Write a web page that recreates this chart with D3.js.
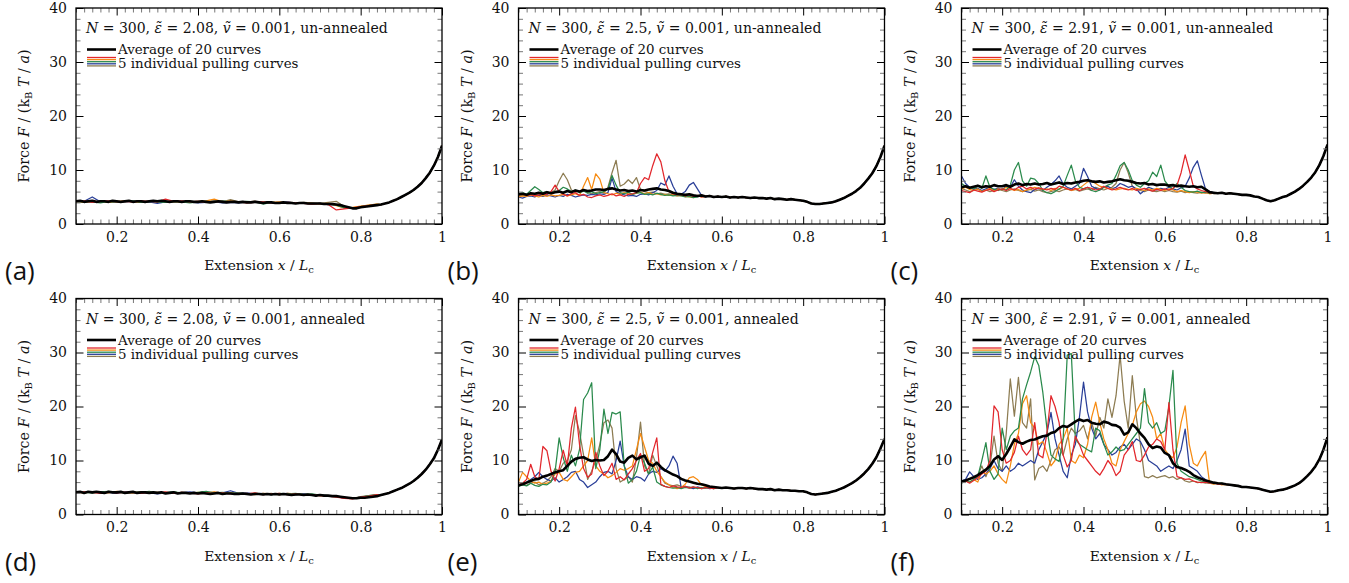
<!DOCTYPE html>
<html><head><meta charset="utf-8">
<script src="https://cdn.jsdelivr.net/npm/d3@7"></script>
<style>body{margin:0;background:#fff}svg{display:block}</style>
</head><body><svg id="c" width="1349" height="583"></svg>
<script>
// ---- tick labels / categories ----
const xTicks = [0.2, 0.4, 0.6, 0.8, 1];
const xTickLabels = ["0.2", "0.4", "0.6", "0.8", "1"];
const yTicks = [0, 10, 20, 30, 40];
const yTickLabels = ["0", "10", "20", "30", "40"];
const panelLabels = ["(a)", "(b)", "(c)", "(d)", "(e)", "(f)"];
const epsValues = ["2.08", "2.5", "2.91", "2.08", "2.5", "2.91"];
const states = ["un-annealed", "un-annealed", "un-annealed", "annealed", "annealed", "annealed"];
const seriesNames = ["red", "orange", "green", "blue", "olive"];
const xStart = 0.10, avgStep = 0.01;

// ---- average curves (x = 0.10 ... 1.00, step 0.01) ----
const avgA = [4.2,4.3,4.1,4.2,4.3,4.1,4.2,4.2,4.1,4.3, 4.2,4.1,4.2,4.3,4.1,4.2,4.2,4.1,4.2,4.3, 4.2,4.3,4.2,4.1,4.2,4.2,4.1,4.2,4.2,4.1, 4.1,4.2,4.1,4.0,4.1,4.2,4.1,4.0,4.1,4.1, 4.0,4.1,4.0,4.0,4.1,4.0,3.9,4.0,4.0,3.9, 3.9,4.0,3.9,3.9,3.8,3.9,3.9,3.8,3.8,3.8, 3.8,3.7,3.7,3.7,3.6,3.5,3.3,3.1,2.9,2.9, 3.1,3.2,3.3,3.4,3.5,3.6,3.8,4.0,4.3,4.6, 5.0,5.4,5.8,6.3,6.9,7.6,8.5,9.5,10.8,12.4,14.5];
const avgB = [5.5,5.6,5.4,5.7,5.6,5.8,5.6,5.9,5.7,5.9, 6.0,5.8,6.1,5.9,6.2,6.0,6.3,6.1,6.2,6.4, 6.4,6.3,6.5,6.6,6.4,6.2,6.3,6.1,6.2,6.0, 6.3,6.2,6.4,6.5,6.6,6.4,6.3,6.1,5.8,5.6, 5.5,5.4,5.5,5.3,5.2,5.3,5.1,5.2,5.0,5.1, 5.0,5.1,4.9,5.0,4.9,5.0,4.9,4.8,4.9,4.8, 4.8,4.7,4.8,4.6,4.7,4.6,4.5,4.6,4.5,4.4, 4.3,4.1,3.8,3.7,3.7,3.8,3.9,4.0,4.2,4.5, 4.8,5.2,5.6,6.1,6.7,7.5,8.4,9.4,10.7,12.4,14.5];
const avgC = [6.8,7.0,6.7,6.9,7.1,6.8,7.0,6.9,7.2,7.0, 7.0,7.2,6.9,7.3,7.5,7.2,7.4,7.3,7.5,7.3, 7.4,7.6,7.3,7.5,7.7,7.4,7.6,7.5,7.7,7.8, 8.0,8.1,7.9,7.8,7.9,7.7,7.8,7.9,8.1,8.3, 8.1,8.0,7.8,7.6,7.5,7.6,7.3,7.4,7.2,7.3, 7.3,7.1,7.2,7.0,7.1,7.0,6.9,7.0,6.8,6.9, 6.4,5.9,5.8,5.7,5.8,5.6,5.7,5.6,5.5,5.4, 5.4,5.3,5.1,5.0,4.7,4.4,4.2,4.4,4.7,5.0, 5.2,5.6,6.0,6.5,7.1,7.8,8.6,9.6,10.9,12.6,14.7];
const avgD = [4.1,4.2,4.0,4.2,4.1,4.2,4.1,4.0,4.2,4.1, 4.1,4.2,4.0,4.1,4.2,4.0,4.1,4.1,4.0,4.1, 4.0,4.1,3.9,4.0,4.1,3.9,4.0,4.0,3.9,4.0, 3.9,4.0,3.9,3.8,3.9,4.0,3.8,3.9,3.9,3.8, 3.8,3.9,3.8,3.7,3.8,3.8,3.7,3.8,3.7,3.8, 3.7,3.8,3.7,3.6,3.7,3.7,3.6,3.7,3.6,3.5, 3.6,3.5,3.5,3.4,3.4,3.3,3.2,3.1,3.0,3.0, 3.1,3.1,3.2,3.3,3.4,3.6,3.8,4.0,4.3,4.6, 4.9,5.3,5.7,6.2,6.8,7.5,8.3,9.3,10.4,12.0,13.9];
const avgE = [5.4,5.6,5.9,6.2,6.5,6.6,7.0,7.2,7.5,7.8, 8.0,8.2,9.0,9.8,10.3,10.5,10.6,10.2,9.9,10.1, 10.0,10.1,10.8,12.0,11.2,9.8,9.6,10.5,10.9,10.2, 10.6,10.9,9.4,9.0,9.6,8.8,8.2,7.8,7.4,7.1, 6.6,6.3,6.1,5.9,5.7,5.6,5.4,5.2,5.1,5.0, 4.9,5.0,4.9,4.8,4.9,4.9,4.8,4.9,4.8,4.7, 4.7,4.6,4.7,4.5,4.6,4.5,4.5,4.4,4.4,4.3, 4.3,4.1,3.8,3.7,3.8,3.9,4.0,4.2,4.4,4.7, 5.0,5.4,5.8,6.3,6.9,7.6,8.4,9.4,10.6,12.2,14.0];
const avgF = [6.1,6.3,6.6,6.9,7.3,7.8,8.3,9.0,10.2,10.8, 10.1,11.2,12.5,13.9,13.4,13.1,13.5,13.8,13.9,14.2, 14.5,14.6,15.1,15.3,16.0,16.4,16.2,16.7,17.2,17.6, 17.3,17.5,17.0,16.8,16.7,17.2,17.0,16.6,16.5,16.1, 14.8,15.2,16.7,16.0,15.0,14.2,13.0,12.3,12.6,12.4, 11.4,11.0,9.5,8.8,8.6,8.3,7.9,7.3,6.9,6.6, 6.3,6.1,5.9,5.8,5.75,5.6,5.5,5.4,5.3,5.1, 5.1,5.0,4.9,4.8,4.6,4.4,4.2,4.3,4.5,4.6, 4.8,5.1,5.4,5.8,6.4,7.1,7.9,8.9,10.2,12.0,14.3];

// ---- individual pulling curves (start at x = 0.10; continue on the average afterwards) ----
// panel (a), step 0.02
const redA = [4.1,4.3,4.0,4.2,4.3,4.1,4.2,4.1,4.3,4.2,4.1,4.6,4.2,4.3,4.1,4.2,4.0,4.1,4.2,4.0,4.1,3.9,4.0,4.1,3.9,3.8,4.0,3.9,3.8,3.7,3.8,3.6,2.6,2.8,3.0,3.2,3.4,3.6];
const orangeA = [4.2,4.0,4.3,4.1,4.0,4.2,4.3,4.1,4.0,4.2,4.3,4.1,4.2,4.0,4.1,4.2,4.3,4.6,4.1,4.3,4.0,4.1,4.2,3.9,4.0,4.1,3.9,3.8,3.9,3.8,3.7,3.8,3.4,3.0,3.1,3.3,3.5,3.7];
const greenA = [4.0,4.2,4.1,3.9,4.2,4.0,4.1,4.3,4.0,4.2,4.1,4.0,4.2,4.1,3.9,4.1,4.2,4.0,4.3,4.1,4.0,4.2,4.1,3.7,4.0,3.9,4.0,3.8,3.9,3.7,3.8,3.7,3.5,3.0,2.9,3.2,3.4,3.6];
const blueA = [4.1,4.2,5.0,4.1,4.2,4.0,4.1,4.2,4.0,4.1,3.8,4.1,4.2,4.0,4.1,3.9,4.0,4.1,3.9,4.0,3.9,4.1,4.2,4.0,3.9,4.0,4.1,3.8,3.9,3.7,3.8,3.6,3.5,3.1,2.9,3.2,3.3,3.6];
const oliveA = [4.2,4.0,4.1,4.2,4.0,4.1,4.2,4.3,4.1,4.0,4.2,4.1,4.0,4.2,4.1,4.0,4.2,4.3,4.1,4.5,4.1,4.0,4.2,4.1,4.0,3.9,4.1,3.9,4.0,3.9,3.8,4.0,4.2,3.2,3.0,3.2,3.5,3.7];
// panel (b), step 0.01
const redB = [5.4,5.6,5.3,5.5,5.2,5.4,5.6,5.5,6.0,7.2, 6.0,5.5,5.2,5.6,5.8,5.3,5.5,5.0,4.9,5.2, 5.4,5.1,5.3,5.6,5.2,5.4,5.1,5.5,5.6,5.8, 7.5,8.6,8.2,10.8,13.0,11.5,8.0,6.0,5.6,5.4, 5.5,5.2,5.4,5.1,5.3,5.0];
const orangeB = [5.0,5.2,5.1,5.4,5.2,5.0,5.3,5.1,5.4,5.2, 5.3,5.5,5.2,5.4,5.6,5.3,7.0,8.6,6.4,9.3, 8.3,5.8,5.6,5.4,5.7,5.5,5.8,5.6,5.5,5.7, 5.9,5.6,5.8,5.5,5.6,5.4,5.5,5.3,5.4,5.2, 5.3,5.1,5.0,4.9,5.2,5.0];
const greenB = [5.6,5.8,5.5,6.2,6.9,6.4,5.8,6.0,5.7,5.9, 6.2,6.8,6.5,6.0,6.3,5.8,6.1,5.7,6.0,5.6, 5.8,6.0,6.5,9.0,7.2,5.8,5.6,5.9,5.5,5.7, 5.8,5.5,5.6,5.4,5.7,5.5,5.3,5.4,5.2,5.3, 5.2,5.0,5.1,4.9,5.0];
const blueB = [5.0,4.8,5.1,5.2,5.0,5.3,5.1,5.4,5.2,5.0, 5.3,5.1,5.5,5.3,5.0,5.2,5.4,5.3,5.5,5.4, 5.6,5.5,5.8,8.5,6.0,5.6,5.4,5.2,5.3,5.1, 5.5,5.6,5.4,5.8,6.2,7.6,7.2,8.9,7.0,5.6, 5.5,6.0,7.2,7.7,6.5,5.3,5.0];
const oliveB = [5.3,5.2,5.5,5.4,5.6,5.3,5.5,5.6,5.8,6.3, 8.0,9.4,8.2,6.3,5.9,6.1,6.4,5.8,5.6,5.8, 6.0,5.7,6.8,9.5,11.8,7.0,7.4,8.2,7.5,8.6, 6.4,6.0,5.8,5.9,5.6,5.7,5.5,5.6,5.4,5.5, 5.3];
// panel (c), step 0.01
const redC = [6.2,6.0,5.8,6.3,6.1,5.9,6.2,6.4,6.0,6.3, 6.5,6.2,6.6,6.3,6.8,7.0,6.5,6.8,6.4,6.7, 6.5,6.3,6.6,6.4,7.0,6.8,6.5,6.3,6.6,6.2, 6.5,6.8,6.6,6.3,6.5,7.0,6.6,6.3,6.5,6.8, 6.5,6.3,6.6,6.2,6.4,6.6,6.3,6.1,6.4,6.2, 6.5,6.3,6.6,7.2,9.5,12.8,10.0,7.0,6.5,6.2, 6.0,5.8,5.7];
const orangeC = [6.5,6.8,6.4,6.2,6.5,6.0,6.3,6.6,6.2,6.5, 6.3,6.8,6.5,6.2,6.4,6.0,6.3,6.5,6.8,6.6, 6.3,6.5,6.2,6.6,6.4,6.8,6.5,6.2,6.4,6.6, 7.2,7.8,8.0,7.5,7.0,6.8,6.6,6.5,6.3,6.5, 6.6,6.4,6.3,6.6,6.4,6.2,6.5,6.3,6.6,6.4, 6.2,6.5,6.3,6.0,6.2,6.0,5.8,6.0,5.9,5.7, 5.8,5.6,5.7];
const greenC = [7.5,7.0,6.8,6.5,7.0,6.6,8.9,6.8,6.4,6.2, 6.5,6.3,7.2,10.0,11.4,8.0,7.0,8.5,8.3,7.5, 6.2,5.8,5.6,6.0,6.5,7.0,9.0,10.9,8.0,6.8, 6.5,6.8,6.2,6.0,6.3,6.8,7.2,7.5,9.0,10.8, 11.4,10.0,8.0,7.2,6.8,7.5,8.0,9.6,8.8,10.9, 8.0,7.0,6.5,7.5,6.8,6.2,6.0,5.9,6.1,5.8, 5.9,5.7,5.8];
const blueC = [8.9,7.5,6.8,6.4,6.6,6.2,6.5,6.8,6.4,6.6, 6.3,7.0,6.8,8.2,7.0,6.3,6.0,5.8,6.4,6.6, 6.2,6.8,7.3,8.0,8.9,7.4,6.8,6.5,7.0,7.5, 10.3,8.8,7.0,6.6,6.3,6.8,7.0,6.5,6.8,7.5, 7.2,6.8,7.0,6.5,5.6,6.2,6.8,6.5,6.3,6.6, 6.4,6.8,6.5,6.3,6.7,7.0,8.5,10.5,11.7,9.0, 6.5,6.0,5.8];
const oliveC = [6.6,6.3,6.0,6.2,6.4,6.1,6.3,6.0,6.2,6.5, 6.2,6.0,6.3,6.5,6.2,6.0,6.2,6.4,6.1,6.3, 6.0,5.8,6.0,6.2,6.0,6.3,6.5,6.2,6.4,6.1, 6.3,6.5,6.2,6.8,6.5,6.3,6.6,6.8,7.5,10.0, 11.4,9.5,7.0,6.5,6.2,6.0,6.3,6.1,6.0,6.2, 6.0,6.2,6.0,5.9,6.1,5.8,6.0,5.8,5.7,5.9, 5.7,5.8,5.6];
// panel (d), step 0.02
const redD = [4.0,4.2,4.1,3.9,4.2,4.0,4.1,4.2,3.9,4.1,4.0,4.2,3.9,4.1,4.0,3.8,4.0,3.9,4.0,3.8,3.9,3.8,4.0,3.7,3.8,3.9,3.7,3.8,3.6,3.7,3.5,3.4,3.2,3.0,2.9,3.2,3.4,3.7];
const orangeD = [4.1,4.0,4.2,4.1,4.0,4.3,4.1,4.0,4.2,4.0,4.1,3.9,4.1,4.0,3.9,4.1,4.0,4.2,3.9,4.0,3.8,3.9,3.7,3.9,3.8,3.7,3.9,3.8,3.7,3.6,3.5,3.4,3.3,3.1,3.0,3.1,3.4,3.6];
const greenD = [4.2,4.1,4.0,4.2,4.3,4.1,4.0,4.2,4.1,4.3,4.0,4.1,4.2,4.0,3.9,4.1,4.3,4.0,4.1,3.9,4.0,3.8,3.9,3.8,3.7,3.9,3.8,3.9,3.7,3.8,3.6,3.5,3.4,3.1,3.0,3.2,3.5,3.7];
const blueD = [4.0,4.1,4.2,4.0,4.1,3.9,4.2,4.0,4.1,4.0,3.8,4.0,4.1,4.0,4.2,4.0,3.9,4.1,4.0,4.4,3.9,4.0,3.8,3.9,3.7,3.8,3.9,3.7,3.8,3.6,3.6,3.5,3.3,3.0,3.0,3.2,3.4,3.6];
const oliveD = [4.1,4.2,4.0,4.1,4.2,4.0,4.1,3.9,4.1,4.0,4.1,4.0,3.9,4.1,4.0,3.9,4.1,4.0,3.8,4.0,3.9,3.8,3.9,3.8,3.9,3.7,3.8,3.7,3.8,3.7,3.6,3.5,3.3,3.1,3.0,3.3,3.5,3.7];
// panel (e), step 0.01
const redE = [5.5,5.8,6.5,9.3,7.0,6.5,12.6,11.8,8.0,6.2, 8.5,11.9,9.0,16.0,19.9,13.0,8.5,6.9,7.5,11.5, 9.0,7.2,8.0,9.5,6.5,7.0,6.4,7.5,8.5,10.0, 11.3,8.0,8.5,11.5,14.2,5.6,5.2,5.0,5.3,5.1, 5.0,5.2,4.9,5.1,5.0,4.8,5.0,4.9,4.8];
const orangeE = [6.0,7.8,7.0,6.2,5.8,6.0,5.6,5.8,6.2,7.5, 7.8,6.5,6.2,7.0,7.8,8.0,9.0,10.0,14.2,9.0, 8.0,7.5,6.8,7.2,7.8,8.5,8.2,8.5,9.0,12.0, 15.0,12.5,10.0,9.5,8.0,7.0,6.0,5.5,5.0,4.8, 5.0,5.6,6.8,7.0,6.5,5.5,5.2,5.0,4.9];
const greenE = [5.2,5.5,5.3,5.8,5.4,5.2,5.6,5.5,6.0,8.0, 14.2,10.5,8.0,11.0,9.0,12.0,21.3,22.5,24.4,8.5, 12.0,19.5,15.0,18.9,18.6,19.0,9.0,5.8,6.5,8.0, 11.0,9.5,7.5,8.8,6.0,5.5,5.2,5.0,4.9,5.0, 4.8,5.0,4.9,5.1,4.8,5.0,4.9,5.0,4.8];
const blueE = [5.3,5.6,6.0,6.5,7.0,7.8,7.0,6.5,6.2,6.8, 6.0,6.5,7.0,7.8,8.0,6.5,6.0,5.0,5.5,6.0, 7.0,7.8,8.0,7.5,10.0,13.6,9.0,7.0,6.5,7.0, 6.8,6.2,7.5,8.0,7.8,8.5,8.0,9.0,10.8,9.5, 5.0,5.2,5.0,4.8,5.1,4.9,5.0,4.8,4.9];
const oliveE = [5.3,5.6,5.4,5.8,6.0,5.5,5.8,6.2,7.0,8.5, 8.0,9.5,10.0,12.0,18.3,15.3,11.0,6.5,8.0,10.0, 13.0,17.0,17.5,16.0,8.5,6.0,6.5,7.0,6.0,10.5, 17.1,9.0,7.5,11.0,9.0,7.0,5.8,5.5,5.3,5.5, 5.2,5.0,5.1,4.9,5.0,4.8,4.9,5.0,4.8];
// panel (f), step 0.01
const redF = [6.0,6.2,5.8,6.3,6.8,7.5,8.0,10.0,20.1,19.0, 12.0,9.5,10.0,11.5,14.5,12.0,11.0,12.0,17.0,11.0, 10.5,15.0,22.0,20.0,17.0,11.0,8.8,10.0,14.5,13.0, 11.0,10.0,9.0,8.0,7.3,8.5,10.0,9.0,7.2,8.0, 11.0,12.0,13.5,10.0,9.8,11.0,12.5,13.0,14.0,13.5, 12.0,20.7,12.0,7.0,6.8,6.5,6.6,6.2,6.0,5.9, 6.0,5.8,5.9,5.6,5.7];
const orangeF = [5.9,6.2,6.0,6.5,6.0,8.0,7.5,8.0,9.0,7.5, 6.5,5.8,9.0,13.0,15.0,20.5,22.0,17.0,16.0,13.0, 13.5,11.5,9.0,10.0,13.0,14.0,16.0,10.0,9.5,11.0, 10.5,13.0,18.0,20.8,17.0,14.0,12.0,9.5,9.0,12.0, 13.5,15.0,16.5,19.0,20.5,21.0,20.0,18.0,14.0,15.0, 12.0,11.0,10.5,12.5,17.0,20.1,13.0,9.5,9.0,10.5, 11.7,5.8,5.6,5.8,5.5];
const greenF = [5.8,6.2,6.0,6.5,7.0,10.0,13.3,8.0,6.5,7.5, 16.0,12.0,14.5,15.5,16.0,21.4,24.0,26.4,29.2,27.6, 22.6,16.0,11.0,10.3,9.8,14.0,29.5,29.8,14.0,13.0, 12.5,12.0,11.6,16.0,15.5,13.0,11.0,11.6,12.5,11.8, 12.0,13.0,14.0,15.0,16.0,23.3,17.0,16.0,17.0,15.0, 15.5,20.0,26.7,9.5,8.0,7.5,7.0,6.8,6.5,6.2, 6.0,5.8,5.9,5.7,5.8];
const blueF = [6.2,6.5,7.9,7.0,6.5,6.8,7.5,8.5,10.0,8.5, 8.0,9.0,8.0,8.5,9.5,9.0,9.5,10.0,9.5,12.0, 13.5,15.0,18.9,14.0,11.0,8.0,6.8,11.0,13.0,18.0, 24.5,19.0,16.0,14.0,15.0,13.0,12.0,11.0,11.5,12.5, 13.0,12.0,13.0,14.0,13.5,12.0,10.0,9.5,9.0,8.0, 8.5,9.0,8.5,10.0,12.0,15.8,9.0,8.5,8.0,7.0, 6.5,6.0,5.8,5.7,5.6];
const oliveF = [6.0,6.3,6.5,6.8,7.2,9.0,7.0,9.0,14.5,9.5, 8.0,15.0,25.1,18.2,25.4,17.0,16.0,21.4,6.4,8.5, 9.0,8.0,10.0,12.0,12.5,11.0,14.0,16.0,15.0,15.5, 16.5,14.0,17.0,14.5,18.0,16.0,21.4,18.0,22.0,29.5, 21.0,16.0,25.7,18.0,13.0,7.0,6.8,7.2,6.8,7.0, 7.2,6.8,7.0,6.5,6.8,6.2,6.0,6.2,5.9,6.0, 5.8,5.9,5.7,5.8,5.6];

// ---- styling ----
const colors = {red:"#e2272c", orange:"#f68b12", green:"#2a8a4c", blue:"#2a3f98", olive:"#8d7c52"};
const drawOrder = ["olive", "blue", "orange", "green", "red"];
const serif = "'DejaVu Serif', serif";

const panels = [
  {avg: avgA, heads: {red: redA, orange: orangeA, green: greenA, blue: blueA, olive: oliveA}, step: 0.02},
  {avg: avgB, heads: {red: redB, orange: orangeB, green: greenB, blue: blueB, olive: oliveB}, step: 0.01},
  {avg: avgC, heads: {red: redC, orange: orangeC, green: greenC, blue: blueC, olive: oliveC}, step: 0.01},
  {avg: avgD, heads: {red: redD, orange: orangeD, green: greenD, blue: blueD, olive: oliveD}, step: 0.02},
  {avg: avgE, heads: {red: redE, orange: orangeE, green: greenE, blue: blueE, olive: oliveE}, step: 0.01},
  {avg: avgF, heads: {red: redF, orange: orangeF, green: greenF, blue: blueF, olive: oliveF}, step: 0.01}
];

const svg = d3.select("#c");
const W = 366, H = 216;
const lefts = [76, 518.5, 961.5], tops = [8, 298.5];

panels.forEach((p, idx) => {
  const col = idx % 3, row = Math.floor(idx / 3);
  const L = lefts[col], T = tops[row];
  const g = svg.append("g").attr("transform", `translate(${L},${T})`);
  const x = d3.scaleLinear().domain([0.1, 1]).range([0, W]);
  const y = d3.scaleLinear().domain([0, 40]).range([H, 0]);

  const cid = "clip" + idx;
  g.append("clipPath").attr("id", cid).append("rect").attr("width", W).attr("height", H);

  const line = d3.line().x(d => x(d[0])).y(d => y(d[1]));
  const avgPts = p.avg.map((v, i) => [xStart + i * avgStep, v]);
  const plot = g.append("g").attr("clip-path", `url(#${cid})`);
  drawOrder.forEach(name => {
    const head = p.heads[name];
    const hp = head.map((v, i) => [xStart + i * p.step, v]);
    const lastX = xStart + (head.length - 1) * p.step;
    const k = Math.round((lastX - xStart) / avgStep) + 1;
    const pts = hp.concat(avgPts.slice(k));
    plot.append("path").datum(pts).attr("d", line)
      .attr("fill", "none").attr("stroke", colors[name]).attr("stroke-width", 1.25)
      .attr("stroke-linejoin", "round");
  });
  plot.append("path").datum(avgPts).attr("d", line)
    .attr("fill", "none").attr("stroke", "#000").attr("stroke-width", 2.6)
    .attr("stroke-linejoin", "round");

  // axes: ticks inward on all sides
  const xMinor = d3.range(0.1, 1.0001, 0.02).map(v => +v.toFixed(2)).filter(v => !xTicks.some(t => Math.abs(t - v) < 1e-6));
  const yMinor = d3.range(0, 40.001, 2).filter(v => v % 10 !== 0);
  const style = sel => { sel.select(".domain").remove(); sel.selectAll("text").attr("font-family", serif).attr("font-size", 14).attr("fill", "#111"); };
  const mk = (axis, tr, vals, size, fmt, color, pad) => {
    const a = g.append("g").attr("transform", tr).call(axis.tickValues(vals).tickSize(size).tickPadding(pad).tickFormat(fmt));
    style(a);
    a.selectAll("line").attr("stroke", color).attr("stroke-width", 1);
    return a;
  };
  const MJ = -7.5, MN = -4.5;
  mk(d3.axisBottom(x), `translate(0,${H})`, xTicks, MJ, (d, i) => xTickLabels[i], "#000", 8);
  mk(d3.axisBottom(x), `translate(0,${H})`, xMinor, MN, () => "", "#777", 8);
  mk(d3.axisTop(x), `translate(0,0)`, xTicks, MJ, () => "", "#000", 8);
  mk(d3.axisTop(x), `translate(0,0)`, xMinor, MN, () => "", "#777", 8);
  mk(d3.axisLeft(y), `translate(0,0)`, yTicks, MJ, (d, i) => yTickLabels[i], "#000", 9);
  mk(d3.axisLeft(y), `translate(0,0)`, yMinor, MN, () => "", "#777", 9);
  mk(d3.axisRight(y), `translate(${W},0)`, yTicks, MJ, () => "", "#000", 8);
  mk(d3.axisRight(y), `translate(${W},0)`, yMinor, MN, () => "", "#777", 8);
  g.append("rect").attr("width", W).attr("height", H).attr("fill", "none").attr("stroke", "#000").attr("stroke-width", 1.3);

  // title
  const tt = g.append("text").attr("x", 10).attr("y", 25).attr("font-family", serif).attr("font-size", 14).attr("fill", "#111");
  tt.append("tspan").attr("font-style", "italic").text("N");
  tt.append("tspan").text(" = 300, ");
  tt.append("tspan").attr("font-style", "italic").text("\u03b5\u0303");
  tt.append("tspan").text(" = " + epsValues[idx] + ", ");
  tt.append("tspan").attr("font-style", "italic").text("\u1e7d");
  tt.append("tspan").text(" = 0.001, " + states[idx]);

  // legend
  g.append("line").attr("x1", 11).attr("x2", 40).attr("y1", 41.5).attr("y2", 41.5).attr("stroke", "#000").attr("stroke-width", 2.6);
  g.append("text").attr("x", 42).attr("y", 46).attr("font-family", serif).attr("font-size", 13.4).attr("fill", "#111").text("Average of 20 curves");
  seriesNames.forEach((name, i) => {
    g.append("line").attr("x1", 11).attr("x2", 40).attr("y1", 49.5 + i * 2.1).attr("y2", 49.5 + i * 2.1)
      .attr("stroke", colors[name]).attr("stroke-width", 1.3);
  });
  g.append("text").attr("x", 42).attr("y", 60).attr("font-family", serif).attr("font-size", 13.4).attr("fill", "#111").text("5 individual pulling curves");

  // axis labels
  const xl = g.append("text").attr("x", W / 2).attr("y", 262).attr("text-anchor", "middle").attr("font-family", serif).attr("font-size", 13.8).attr("fill", "#111");
  xl.append("tspan").text("Extension ");
  xl.append("tspan").attr("font-style", "italic").text("x");
  xl.append("tspan").text(" / ");
  xl.append("tspan").attr("font-style", "italic").text("L");
  xl.append("tspan").attr("font-size", 10).attr("dy", 3).text("c");

  const yl = g.append("text").attr("transform", `translate(-47,${H / 2}) rotate(-90)`).attr("text-anchor", "middle").attr("font-family", serif).attr("font-size", 14.3).attr("fill", "#111");
  yl.append("tspan").text("Force ");
  yl.append("tspan").attr("font-style", "italic").text("F");
  yl.append("tspan").text(" / (k");
  yl.append("tspan").attr("font-size", 10).attr("dy", 3).text("B");
  yl.append("tspan").attr("dy", -3).text(" ");
  yl.append("tspan").attr("font-style", "italic").text("T");
  yl.append("tspan").text(" / ");
  yl.append("tspan").attr("font-style", "italic").text("a");
  yl.append("tspan").text(")");

  // panel label
  svg.append("text").attr("x", L - 71).attr("y", T + 272).attr("font-family", "'Open Sans', sans-serif").attr("font-size", 26).attr("fill", "#111").text(panelLabels[idx]);
});
</script>
</body></html>
